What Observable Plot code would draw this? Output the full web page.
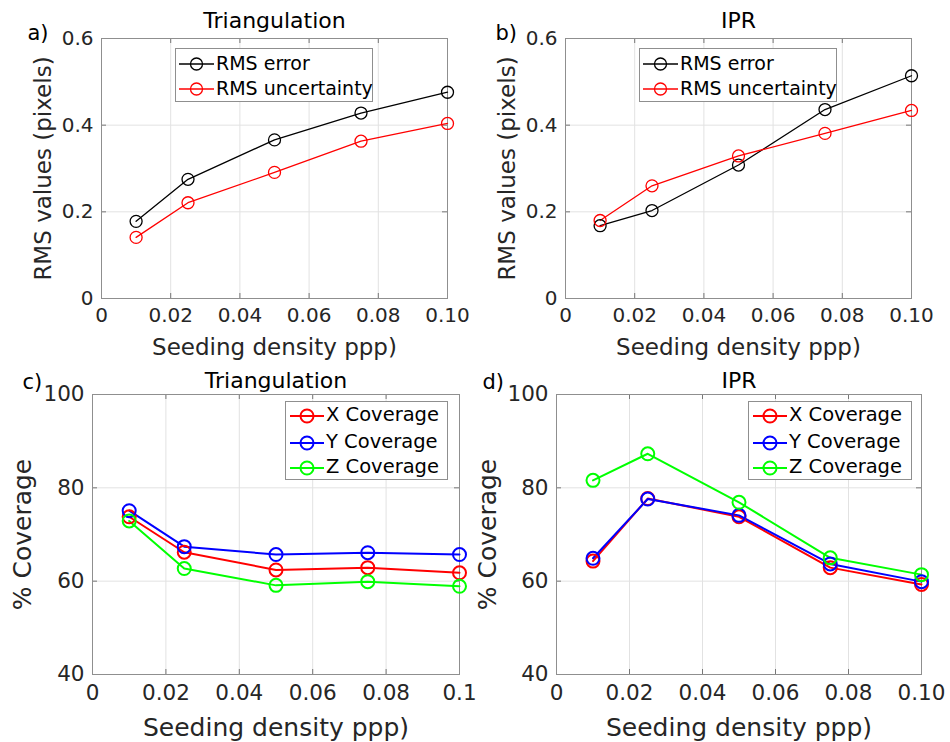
<!DOCTYPE html>
<html><head><meta charset="utf-8">
<script src="https://cdn.jsdelivr.net/npm/d3@7"></script>
<script src="https://cdn.jsdelivr.net/npm/@observablehq/plot@0.6"></script>
<style>
html,body{margin:0;padding:0;background:#fff;}
#root{position:relative;width:950px;height:742px;overflow:hidden;background:#fff;font-family:"DejaVu Sans",sans-serif;}
.panel{position:absolute;}
.legend{position:absolute;border:1px solid #8f8f8f;background:#fff;box-sizing:border-box;}
.legend svg{position:absolute;left:0;top:0;overflow:visible;}
.legend .lab{position:absolute;white-space:nowrap;color:#000;line-height:1;}
</style>
</head><body>
<div id="root"></div>
<script>
// ---- data ----
const seeding = [0.01, 0.025, 0.05, 0.075, 0.1];
const xTicks = [0, 0.02, 0.04, 0.06, 0.08, 0.1];
const xTickLabels = ["0", "0.02", "0.04", "0.06", "0.08", "0.10"];
const xTickLabelsC = ["0", "0.02", "0.04", "0.06", "0.08", "0.1"];
const rmsTicks = [0, 0.2, 0.4, 0.6];
const rmsTickLabels = ["0", "0.2", "0.4", "0.6"];
const covTicks = [40, 60, 80, 100];
const covTickLabels = ["40", "60", "80", "100"];

const rmsNames = ["RMS error", "RMS uncertainty"];
const covNames = ["X Coverage", "Y Coverage", "Z Coverage"];

const triRmsError = [0.178, 0.275, 0.366, 0.428, 0.476];
const triRmsUncertainty = [0.141, 0.221, 0.291, 0.363, 0.404];
const iprRmsError = [0.168, 0.203, 0.308, 0.436, 0.514];
const iprRmsUncertainty = [0.180, 0.260, 0.329, 0.381, 0.434];

const triXCoverage = [73.8, 66.2, 62.4, 62.9, 61.8];
const triYCoverage = [75.1, 67.4, 65.7, 66.1, 65.7];
const triZCoverage = [72.9, 62.7, 59.1, 59.9, 58.9];
const iprXCoverage = [64.3, 77.7, 73.8, 62.9, 59.3];
const iprYCoverage = [64.9, 77.6, 74.1, 63.7, 59.9];
const iprZCoverage = [81.6, 87.3, 76.9, 65.0, 61.4];

// ---- helpers ----
const rmsColors = ["#000000", "#ff0000"];
const covColors = ["#ff0000", "#0000ff", "#00ff00"];
const root = document.getElementById("root");

function rowsOf(names, seriesList) {
  const rows = [];
  names.forEach((name, k) => seriesList[k].forEach((v, i) => rows.push({series: name, x: seeding[i], y: v})));
  return rows;
}

function panel(o) {
  const W = 475, H = 371;
  const fw = W - o.ml - o.mr, fh = H - o.mt - o.mb;
  const rows = rowsOf(o.names, o.series);
  const tickInk = "#262626";
  const chart = Plot.plot({
    width: W, height: H,
    marginLeft: o.ml, marginRight: o.mr, marginTop: o.mt, marginBottom: o.mb,
    style: {fontFamily: "DejaVu Sans", background: "transparent", overflow: "visible"},
    x: {domain: [0, 0.1]},
    y: {domain: o.yDomain},
    color: {domain: o.names, range: o.colors},
    marks: [
      Plot.gridX(xTicks, {stroke: "#e2e2e2", strokeOpacity: 1}),
      Plot.gridY(o.yTicks, {stroke: "#e2e2e2", strokeOpacity: 1}),
      Plot.ruleX(xTicks, {insetTop: fh - 5, stroke: "#777"}),
      Plot.ruleX(xTicks, {insetBottom: fh - 5, stroke: "#777"}),
      Plot.ruleY(o.yTicks, {insetRight: fw - 5, stroke: "#777"}),
      Plot.ruleY(o.yTicks, {insetLeft: fw - 5, stroke: "#777"}),
      Plot.frame({stroke: "#8f8f8f"}),
      Plot.axisX(xTicks, {tickSize: 0, tickPadding: o.xpad, fontSize: o.tfs, fill: tickInk,
        tickFormat: d => o.xLabels[xTicks.indexOf(d)], label: null}),
      Plot.axisY(o.yTicks, {tickSize: 0, tickPadding: 8, fontSize: o.tfs, fill: tickInk,
        tickFormat: d => o.yLabels[o.yTicks.indexOf(d)], label: null}),
      Plot.line(rows, {x: "x", y: "y", stroke: "series", z: "series", strokeWidth: o.sw}),
      Plot.dot(rows, {x: "x", y: "y", stroke: "series", r: o.r, strokeWidth: o.sw, fill: "none"}),
      Plot.text([o.title], {frameAnchor: "top", dy: o.titleDy, fontSize: o.titleFs, textAnchor: "middle", lineAnchor: "middle", fill: "#000"}),
      Plot.text([o.tag], {frameAnchor: "top-left", dx: o.tagDx, dy: o.tagDy, fontSize: 21, textAnchor: "start", lineAnchor: "middle", fill: "#000"}),
      Plot.text([o.ylabel], {frameAnchor: "left", rotate: -90, dx: o.ylDx, fontSize: o.lfs, textAnchor: "middle", lineAnchor: "middle", fill: tickInk}),
      Plot.text(["Seeding density ppp)"], {frameAnchor: "bottom", dy: o.xlDy, fontSize: o.lfs, textAnchor: "middle", lineAnchor: "middle", fill: tickInk})
    ]
  });
  const wrap = document.createElement("div");
  wrap.className = "panel";
  wrap.style.left = o.left + "px";
  wrap.style.top = o.top + "px";
  wrap.appendChild(chart);
  root.appendChild(wrap);
}

function legend(o) {
  const box = document.createElement("div");
  box.className = "legend";
  Object.assign(box.style, {left: o.left + "px", top: o.top + "px", width: o.width + "px", height: o.height + "px"});
  const ns = "http://www.w3.org/2000/svg";
  const svg = document.createElementNS(ns, "svg");
  svg.setAttribute("width", o.width); svg.setAttribute("height", o.height);
  o.names.forEach((name, i) => {
    const cy = o.rows[i];
    const line = document.createElementNS(ns, "line");
    line.setAttribute("x1", o.sx1); line.setAttribute("x2", o.sx2);
    line.setAttribute("y1", cy); line.setAttribute("y2", cy);
    line.setAttribute("stroke", o.colors[i]); line.setAttribute("stroke-width", o.sw);
    svg.appendChild(line);
    const c = document.createElementNS(ns, "circle");
    c.setAttribute("cx", (o.sx1 + o.sx2) / 2); c.setAttribute("cy", cy); c.setAttribute("r", o.r);
    c.setAttribute("fill", "none"); c.setAttribute("stroke", o.colors[i]); c.setAttribute("stroke-width", o.sw);
    svg.appendChild(c);
    const t = document.createElement("div");
    t.className = "lab";
    t.textContent = name;
    Object.assign(t.style, {left: o.tx + "px", top: (cy - o.fs * 0.55) + "px", fontSize: o.fs + "px"});
    box.appendChild(t);
  });
  box.appendChild(svg);
  root.appendChild(box);
}

// ---- panels ----
const rmsCommon = {names: rmsNames, colors: rmsColors, yDomain: [0, 0.6], yTicks: rmsTicks, yLabels: rmsTickLabels,
  xLabels: xTickLabels, ylabel: "RMS values (pixels)", mt: 38, mb: 73, tfs: 20, lfs: 23, titleFs: 22,
  xpad: 9, sw: 1.3, r: 6, titleDy: -18, tagDy: -5, xlDy: 49, top: 0};
panel({...rmsCommon, left: 0, ml: 101, mr: 28, series: [triRmsError, triRmsUncertainty], title: "Triangulation", tag: "a)", tagDx: -74, ylDx: -58});
panel({...rmsCommon, left: 475, ml: 90, mr: 39, series: [iprRmsError, iprRmsUncertainty], title: "IPR", tag: "b)", tagDx: -70, ylDx: -58});

const covCommon = {names: covNames, colors: covColors, yDomain: [40, 100], yTicks: covTicks, yLabels: covTickLabels,
  ylabel: "% Coverage", mt: 23, mb: 68, tfs: 21.5, lfs: 25, titleFs: 22,
  xpad: 10, sw: 2, r: 6.5, titleDy: -14, tagDy: -12, xlDy: 53, top: 371};
panel({...covCommon, left: 0, ml: 92, mr: 16, series: [triXCoverage, triYCoverage, triZCoverage], xLabels: xTickLabelsC, title: "Triangulation", tag: "c)", tagDx: -70, ylDx: -70});
panel({...covCommon, left: 475, ml: 81, mr: 29, series: [iprXCoverage, iprYCoverage, iprZCoverage], xLabels: xTickLabels, title: "IPR", tag: "d)", tagDx: -74, ylDx: -69});

// ---- legends ----
legend({left: 175, top: 48, width: 198, height: 54, names: rmsNames, colors: rmsColors, rows: [15, 40], sx1: 3, sx2: 38, tx: 40, fs: 19, sw: 1.3, r: 6});
legend({left: 639, top: 48, width: 198, height: 54, names: rmsNames, colors: rmsColors, rows: [15, 40], sx1: 3, sx2: 38, tx: 40, fs: 19, sw: 1.3, r: 6});
legend({left: 285, top: 401, width: 163, height: 79, names: covNames, colors: covColors, rows: [14, 41, 66], sx1: 4, sx2: 38, tx: 40, fs: 19.5, sw: 2, r: 6.5});
legend({left: 748, top: 401, width: 164, height: 79, names: covNames, colors: covColors, rows: [14, 41, 66], sx1: 4, sx2: 38, tx: 40, fs: 19.5, sw: 2, r: 6.5});
</script>
</body></html>
